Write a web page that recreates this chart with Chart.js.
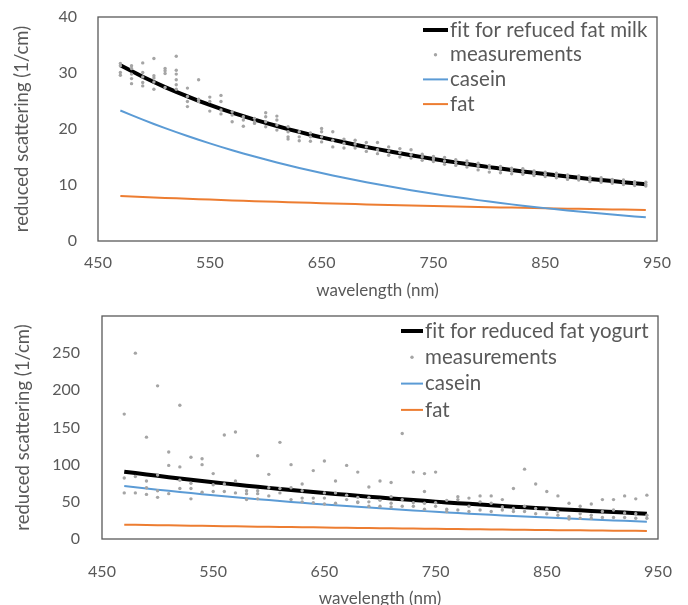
<!DOCTYPE html>
<html>
<head>
<meta charset="utf-8">
<script src="https://cdn.jsdelivr.net/npm/chart.js@4.4.0/dist/chart.umd.min.js"></script>
<style>
    html, body { margin: 0; padding: 0; background: #fff; overflow: hidden; }
    .box { position: relative; width: 688px; height: 305px; }
    canvas { display: block; }
</style>
</head>
<body>
<div class="box"><canvas id="milkChart" width="688" height="305"></canvas></div>
<div class="box"><canvas id="yogurtChart" width="688" height="305"></canvas></div>
<script>
// wavelengths (nm) of the measurement columns and the curves
const wavelengths = [470, 480, 490, 500, 510, 520, 530, 540, 550, 560, 570, 580, 590, 600, 610, 620,
    630, 640, 650, 660, 670, 680, 690, 700, 710, 720, 730, 740, 750, 760, 770, 780,
    790, 800, 810, 820, 830, 840, 850, 860, 870, 880, 890, 900, 910, 920, 930, 940];

const xTicks = [450, 550, 650, 750, 850, 950];

// reduced fat milk
const milkFit = [31.40, 30.34, 29.34, 28.39, 27.49, 26.63, 25.82, 25.04, 24.30, 23.60, 22.93, 22.29, 21.68, 21.09, 20.53, 19.99,
    19.48, 18.98, 18.51, 18.05, 17.62, 17.20, 16.79, 16.40, 16.03, 15.67, 15.32, 14.98, 14.66, 14.34, 14.04, 13.75,
    13.47, 13.19, 12.93, 12.67, 12.43, 12.19, 11.95, 11.73, 11.51, 11.30, 11.09, 10.89, 10.70, 10.51, 10.33, 10.15];
const milkCasein = [23.30, 22.47, 21.67, 20.90, 20.15, 19.44, 18.74, 18.08, 17.43, 16.81, 16.21, 15.64, 15.08, 14.54, 14.02, 13.52,
    13.04, 12.58, 12.13, 11.70, 11.28, 10.88, 10.49, 10.12, 9.76, 9.41, 9.07, 8.75, 8.44, 8.14, 7.85, 7.57,
    7.30, 7.04, 6.79, 6.54, 6.31, 6.09, 5.87, 5.66, 5.46, 5.26, 5.08, 4.90, 4.72, 4.55, 4.39, 4.23];
const milkFat = [8.04, 7.95, 7.86, 7.78, 7.70, 7.62, 7.54, 7.46, 7.39, 7.32, 7.25, 7.18, 7.12, 7.05, 6.99, 6.93,
    6.87, 6.81, 6.76, 6.70, 6.65, 6.59, 6.54, 6.49, 6.44, 6.39, 6.35, 6.30, 6.26, 6.21, 6.17, 6.12,
    6.08, 6.04, 6.00, 5.96, 5.92, 5.89, 5.85, 5.81, 5.78, 5.74, 5.71, 5.67, 5.64, 5.61, 5.57, 5.54];
// measured values, one list per wavelength
const milkMeasured = [
    [31.7, 31.3, 30.1, 29.6], [31.3, 30.8, 29.8, 29.0, 28.1], [31.8, 30.1, 29.3, 28.3, 27.7], [32.6, 29.5, 29.1, 28.4, 27.1],
    [30.8, 30.4, 29.9, 27.4], [33.0, 30.5, 29.8, 28.8, 27.9, 27.1], [27.3, 25.8, 24.9, 24.0], [28.8, 25.3, 24.9],
    [25.7, 24.9, 23.2], [26.0, 24.9, 23.4, 22.7], [23.1, 22.5, 21.3], [22.2, 21.6, 20.5],
    [21.9, 21.3, 21.0], [22.9, 22.2, 21.3, 20.4], [22.3, 21.6, 20.7, 19.8], [20.4, 19.5, 18.6, 18.2],
    [19.5, 18.6, 17.9], [19.3, 18.6, 17.8], [20.1, 19.5, 18.6, 17.7], [19.5, 18.0, 16.8],
    [18.2, 17.4, 16.6], [18.0, 17.3, 16.6], [17.6, 16.8, 16.0], [17.6, 16.3, 15.6],
    [16.8, 16.1, 15.3], [16.5, 15.8, 15.0], [16.3, 15.4, 14.8], [15.5, 15.0, 14.4],
    [15.1, 14.7, 14.2], [14.9, 14.3, 13.7], [14.5, 14.0, 13.5], [14.3, 13.8, 13.2],
    [13.9, 13.4, 12.7], [13.5, 13.0, 12.3], [13.3, 12.9, 12.2], [13.0, 12.6, 12.0],
    [12.9, 12.4, 11.9], [12.5, 12.1, 11.7], [12.3, 11.9, 11.5], [12.1, 11.7, 11.3],
    [11.8, 11.5, 11.0], [11.6, 11.3, 10.9], [11.4, 11.0, 10.6], [11.3, 10.9, 10.5],
    [11.0, 10.7, 10.3], [10.9, 10.5, 10.1], [10.6, 10.3, 9.9], [10.5, 10.1, 9.8]
];

// reduced fat yogurt
const yogurtFit = [90.60, 88.68, 86.82, 84.99, 83.20, 81.45, 79.73, 78.06, 76.43, 74.82, 73.26, 71.73, 70.23, 68.77, 67.34, 65.94,
    64.56, 63.23, 61.92, 60.64, 59.38, 58.15, 56.95, 55.78, 54.63, 53.51, 52.41, 51.33, 50.28, 49.26, 48.25, 47.27,
    46.31, 45.36, 44.44, 43.53, 42.65, 41.79, 40.95, 40.12, 39.31, 38.52, 37.75, 36.99, 36.25, 35.52, 34.80, 34.11];
const yogurtCasein = [71.30, 69.62, 67.99, 66.39, 64.83, 63.30, 61.81, 60.36, 58.94, 57.55, 56.20, 54.88, 53.59, 52.33, 51.10, 49.90,
    48.72, 47.58, 46.46, 45.37, 44.30, 43.26, 42.24, 41.25, 40.28, 39.33, 38.41, 37.50, 36.62, 35.76, 34.92, 34.10,
    33.30, 32.51, 31.75, 31.00, 30.27, 29.56, 28.87, 28.19, 27.53, 26.88, 26.25, 25.63, 25.03, 24.44, 23.86, 23.30];
const yogurtFat = [19.30, 19.06, 18.83, 18.60, 18.37, 18.15, 17.92, 17.70, 17.49, 17.27, 17.06, 16.85, 16.64, 16.44, 16.24, 16.04,
    15.84, 15.65, 15.46, 15.27, 15.08, 14.89, 14.71, 14.53, 14.35, 14.18, 14.00, 13.83, 13.66, 13.50, 13.33, 13.17,
    13.01, 12.85, 12.69, 12.53, 12.38, 12.23, 12.08, 11.93, 11.78, 11.64, 11.50, 11.36, 11.22, 11.08, 10.94, 10.81];
const yogurtMeasured = [
    [168, 82, 62], [250, 84, 62], [137, 78, 69, 60], [206, 86, 65, 56],
    [117, 99, 61], [180, 97, 79, 68], [110, 75, 68, 54], [108, 100, 63],
    [88, 73, 64], [140, 74, 64], [144, 78, 62], [65, 61, 53],
    [112, 65, 61, 54], [87, 69, 58], [130, 68, 62], [100, 69, 53],
    [74, 65, 55, 50], [92, 55, 49], [105, 62, 55, 47], [78, 62, 48],
    [99, 59, 53], [90, 56, 50, 49], [70, 56, 50, 44], [78, 52, 44],
    [76, 57, 48, 43], [142, 53, 44], [90, 49, 44], [88, 64, 48, 40],
    [90, 49, 44], [52, 40, 37], [57, 53, 39], [55, 44, 37],
    [58, 50, 39], [58, 48, 37], [53, 43, 39], [68, 41, 37],
    [94, 44, 37], [74, 41, 34], [64, 40, 34], [58, 37, 32],
    [48, 30, 27], [44, 34, 28], [47, 32, 28], [53, 37, 29],
    [53, 39, 29], [58, 35, 29], [54, 34, 28], [59, 32, 28]
];

const textColor = '#595959';
const fontFamily = 'Lato, "Open Sans", sans-serif';

function toPoints(values) {
    return values.map(function(v, i) { return { x: wavelengths[i], y: v }; });
}

function toScatter(columns) {
    const pts = [];
    columns.forEach(function(col, i) {
        col.forEach(function(v) { pts.push({ x: wavelengths[i], y: v }); });
    });
    return pts;
}

// box around the plot area
const plotFrame = {
    id: 'plotFrame',
    afterDraw(chart) {
        const a = chart.chartArea;
        const ctx = chart.ctx;
        ctx.save();
        ctx.strokeStyle = '#595959';
        ctx.lineWidth = 1.3;
        ctx.strokeRect(a.left, a.top, a.right - a.left, a.bottom - a.top);
        ctx.restore();
    }
};

// legend like the one in Excel, one entry per row, inside the plot
const rowLegend = {
    id: 'rowLegend',
    afterDraw(chart, args, opts) {
        const ctx = chart.ctx;
        ctx.save();
        ctx.font = opts.size + 'px ' + fontFamily;
        ctx.textBaseline = 'middle';
        ctx.letterSpacing = '0.05px'; // keeps "fi" from turning into a ligature
        chart.data.datasets.forEach(function(ds, i) {
            const y = opts.y + i * opts.rowH;
            if (ds.showLine) {
                ctx.strokeStyle = ds.borderColor;
                ctx.lineWidth = ds.borderWidth;
                ctx.beginPath();
                ctx.moveTo(opts.x, y);
                ctx.lineTo(opts.x + opts.sampleW, y);
                ctx.stroke();
            } else {
                ctx.fillStyle = ds.backgroundColor;
                ctx.beginPath();
                ctx.arc(opts.x + opts.sampleW / 2, y, ds.pointRadius, 0, Math.PI * 2);
                ctx.fill();
            }
            ctx.fillStyle = textColor;
            ctx.fillText(ds.label, opts.x + opts.sampleW + 2, y);
        });
        ctx.restore();
    }
};

function makeDatasets(fitLabel, fit, measured, casein, fat) {
    return [{
        label: fitLabel,
        data: toPoints(fit),
        showLine: true,
        borderColor: '#000000',
        borderWidth: 4,
        pointRadius: 0,
        order: 1
    }, {
        label: 'measurements',
        data: toScatter(measured),
        showLine: false,
        backgroundColor: '#A5A5A5',
        borderWidth: 0,
        pointRadius: 1.7,
        order: 0
    }, {
        label: 'casein',
        data: toPoints(casein),
        showLine: true,
        borderColor: '#5B9BD5',
        borderWidth: 2,
        pointRadius: 0,
        order: 2
    }, {
        label: 'fat',
        data: toPoints(fat),
        showLine: true,
        borderColor: '#ED7D31',
        borderWidth: 2,
        pointRadius: 0,
        order: 3
    }];
}

function makeConfig(datasets, s) {
    return {
        type: 'scatter',
        data: { datasets: datasets },
        options: {
            responsive: false,
            animation: false,
            layout: { padding: { left: 0, top: s.top, right: s.right, bottom: 0 } },
            plugins: {
                legend: { display: false },
                tooltip: { enabled: false },
                rowLegend: s.legend
            },
            scales: {
                x: {
                    type: 'linear',
                    min: 450,
                    max: 950,
                    afterBuildTicks: function(axis) {
                        axis.ticks = xTicks.map(function(v) { return { value: v }; });
                    },
                    afterFit: function(axis) { axis.height = s.xHeight; },
                    // tick marks are not drawn, their length only spaces the labels
                    grid: { display: false, drawTicks: true, tickLength: s.xGap },
                    border: { display: false },
                    ticks: { color: textColor, padding: 1, font: { family: fontFamily, size: 16 } },
                    title: {
                        display: true,
                        text: 'wavelength (nm)',
                        color: textColor,
                        font: { family: fontFamily, size: 17 },
                        padding: { top: 0, bottom: s.xTitlePad }
                    }
                },
                y: {
                    min: 0,
                    max: s.yMax,
                    afterFit: function(axis) { axis.width = s.yWidth; },
                    grid: { display: false, drawTicks: true, tickLength: s.yGap },
                    border: { display: false },
                    ticks: {
                        stepSize: s.yStep,
                        color: textColor,
                        padding: 1,
                        font: { family: fontFamily, size: 16 },
                        callback: function(value) { return value > s.yLabelMax ? '' : value; }
                    },
                    title: {
                        display: true,
                        text: 'reduced scattering (1/cm)',
                        color: textColor,
                        font: { family: fontFamily, size: 18.5 },
                        padding: { top: s.yTitlePad, bottom: 0 }
                    }
                }
            }
        },
        plugins: [plotFrame, rowLegend]
    };
}

new Chart(document.getElementById('milkChart'), makeConfig(
    makeDatasets('fit for refuced fat milk', milkFit, milkMeasured, milkCasein, milkFat),
    { top: 17, right: 31, yWidth: 98, xHeight: 64, xGap: 11, xTitlePad: 4, yGap: 20, yTitlePad: 11,
      yMax: 40, yStep: 10, yLabelMax: 40,
      legend: { x: 423, y: 30, rowH: 24.7, sampleW: 25, size: 20.5 } }
));

new Chart(document.getElementById('yogurtChart'), makeConfig(
    makeDatasets('fit for reduced fat yogurt', yogurtFit, yogurtMeasured, yogurtCasein, yogurtFat),
    { top: 11, right: 30, yWidth: 102, xHeight: 71, xGap: 22, xTitlePad: 1, yGap: 21, yTitlePad: 12,
      yMax: 300, yStep: 50, yLabelMax: 250,
      legend: { x: 401, y: 26, rowH: 26.3, sampleW: 22, size: 20.5 } }
));
</script>
</body>
</html>
